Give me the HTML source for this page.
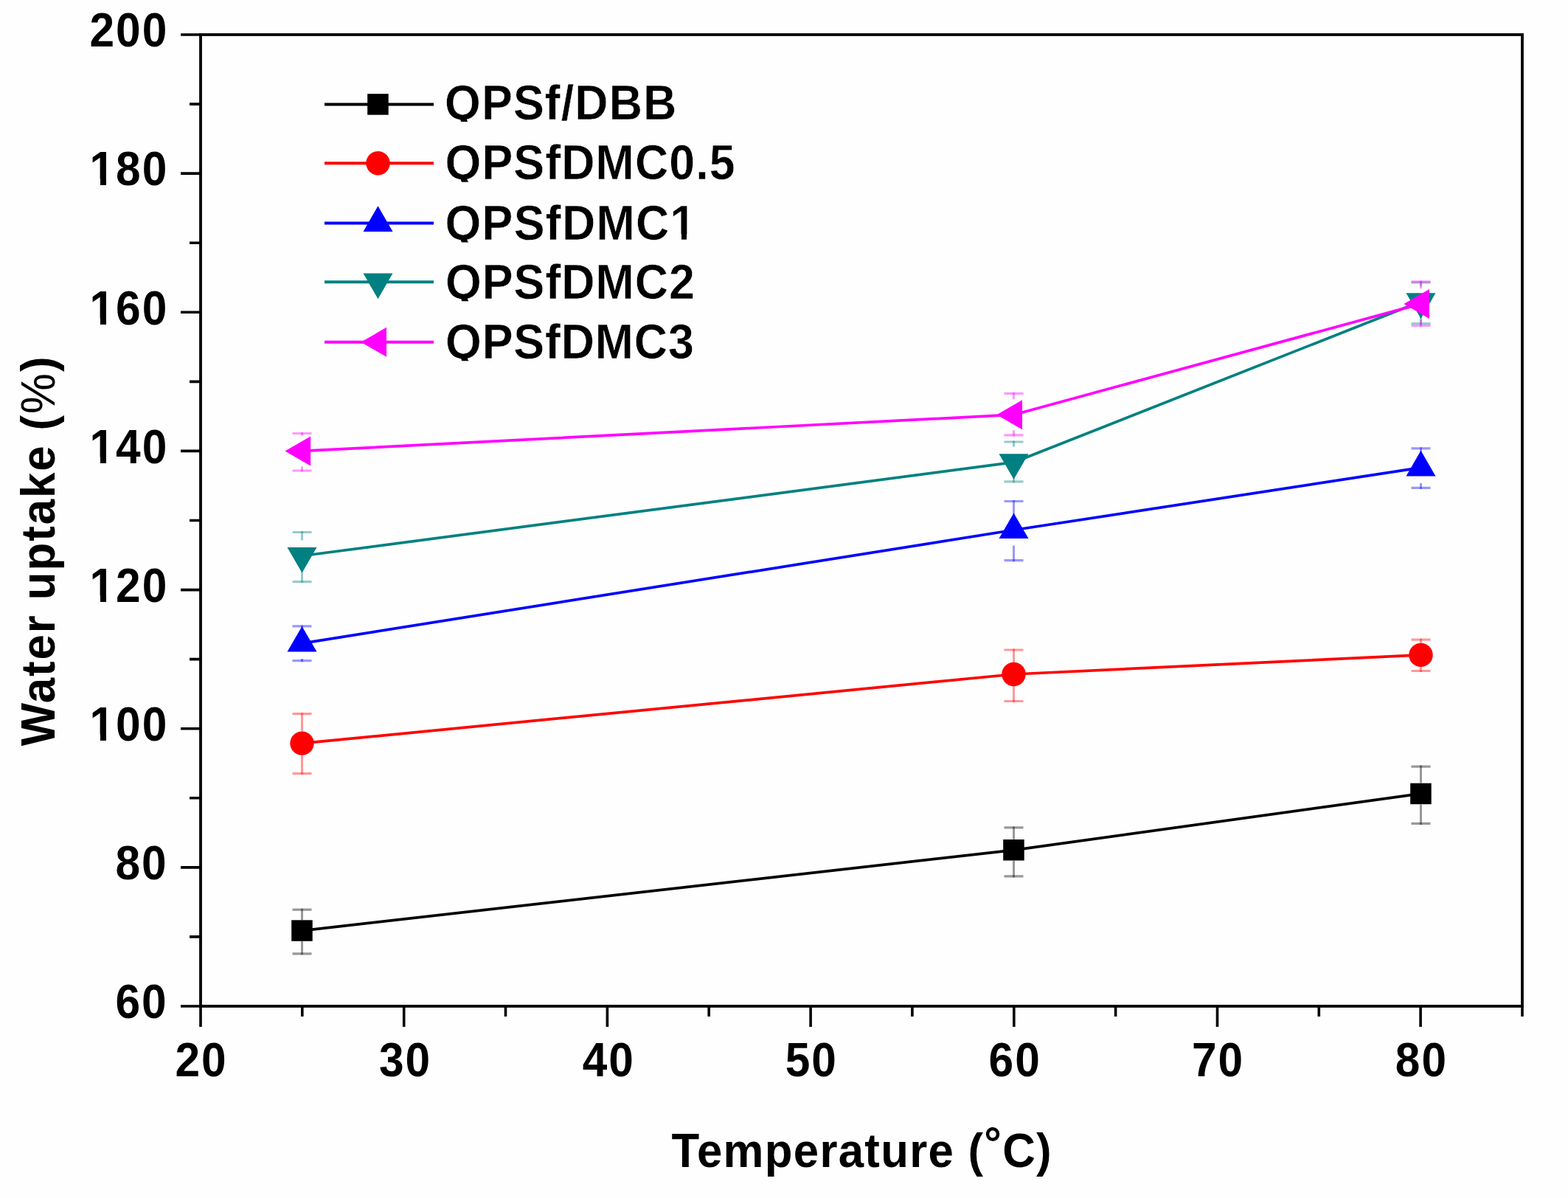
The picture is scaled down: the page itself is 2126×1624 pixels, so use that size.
<!DOCTYPE html><html><head><meta charset="utf-8"><title>Water uptake vs temperature</title><style>html,body{margin:0;padding:0;background:#fff}svg{display:block}text{font-family:"Liberation Sans",Arial,sans-serif;font-weight:bold;fill:#000}</style></head><body>
<svg width="2126" height="1624" viewBox="0 0 2126 1624">
<rect width="2126" height="1624" fill="#fefefe"/>
<g>
<path d="M245,1364.0H272 M245,1175.9H272 M245,987.7H272 M245,799.6H272 M245,611.4H272 M245,423.3H272 M245,235.1H272 M245,47.0H272 M257,1269.9H272 M257,1081.8H272 M257,893.6H272 M257,705.5H272 M257,517.4H272 M257,329.2H272 M257,141.1H272 M272.0,1364V1392 M547.7,1364V1392 M823.4,1364V1392 M1099.1,1364V1392 M1374.8,1364V1392 M1650.5,1364V1392 M1926.1,1364V1392 M409.8,1364V1378 M685.5,1364V1378 M961.2,1364V1378 M1236.9,1364V1378 M1512.6,1364V1378 M1788.3,1364V1378 M2064.0,1364V1378" stroke="#000" stroke-width="3.6" fill="none"/>
<rect x="272" y="47" width="1792" height="1317" fill="none" stroke="#000" stroke-width="3.8"/>
<text transform="translate(156.50,1380.30) scale(0.93,1)" font-size="65" letter-spacing="2.15" text-anchor="start"><tspan>60</tspan></text>
<text transform="translate(156.50,1192.16) scale(0.93,1)" font-size="65" letter-spacing="2.15" text-anchor="start"><tspan>80</tspan></text>
<text transform="translate(121.50,1004.01) scale(0.93,1)" font-size="65" letter-spacing="2.15" text-anchor="start"><tspan>100</tspan></text>
<text transform="translate(121.50,815.87) scale(0.93,1)" font-size="65" letter-spacing="2.15" text-anchor="start"><tspan>120</tspan></text>
<text transform="translate(121.50,627.73) scale(0.93,1)" font-size="65" letter-spacing="2.15" text-anchor="start"><tspan>140</tspan></text>
<text transform="translate(121.50,439.59) scale(0.93,1)" font-size="65" letter-spacing="2.15" text-anchor="start"><tspan>160</tspan></text>
<text transform="translate(121.50,251.44) scale(0.93,1)" font-size="65" letter-spacing="2.15" text-anchor="start"><tspan>180</tspan></text>
<text transform="translate(121.50,63.30) scale(0.93,1)" font-size="65" letter-spacing="2.15" text-anchor="start"><tspan>200</tspan></text>
<text transform="translate(237.50,1459.30) scale(0.93,1)" font-size="65" letter-spacing="2.15" text-anchor="start"><tspan>20</tspan></text>
<text transform="translate(513.88,1459.30) scale(0.93,1)" font-size="65" letter-spacing="2.15" text-anchor="start"><tspan>30</tspan></text>
<text transform="translate(789.76,1459.30) scale(0.93,1)" font-size="65" letter-spacing="2.15" text-anchor="start"><tspan>40</tspan></text>
<text transform="translate(1064.64,1459.30) scale(0.93,1)" font-size="65" letter-spacing="2.15" text-anchor="start"><tspan>50</tspan></text>
<text transform="translate(1340.52,1459.30) scale(0.93,1)" font-size="65" letter-spacing="2.15" text-anchor="start"><tspan>60</tspan></text>
<text transform="translate(1615.90,1459.30) scale(0.93,1)" font-size="65" letter-spacing="2.15" text-anchor="start"><tspan>70</tspan></text>
<text transform="translate(1891.78,1459.30) scale(0.93,1)" font-size="65" letter-spacing="2.15" text-anchor="start"><tspan>80</tspan></text>
<text transform="translate(910.60,1582.00) scale(0.95,1)" font-size="65" letter-spacing="1.35" text-anchor="start"><tspan>Temperature (</tspan><tspan font-size="62" font-weight="bold" stroke="none" dy="-11">°</tspan><tspan dy="11">C)</tspan></text>
<text transform="translate(73.80,1011.20) rotate(-90) scale(0.95,1)" font-size="65" letter-spacing="2.05" text-anchor="start"><tspan>Water uptake (</tspan><tspan font-weight="normal" stroke="none">%</tspan><tspan>)</tspan></text>
<path d="M396.5,1233.2H422.5M396.5,1292.8H422.5M1361.5,1121.9H1387.5M1361.5,1187.9H1387.5M1913.5,1039.1H1939.5M1913.5,1116.4H1939.5" stroke="#000000" stroke-opacity="0.4" stroke-width="3.2" fill="none"/>
<path d="M409.5,1231.7V1247.1M409.5,1276.1V1294.3M1374.5,1120.4V1137.8M1374.5,1166.8V1189.4M1926.5,1037.6V1061.4M1926.5,1090.4V1117.9" stroke="#000000" stroke-opacity="0.4" stroke-width="3" fill="none"/>
<path d="M396.5,967.7H422.5M396.5,1048.6H422.5M1361.5,881.0H1387.5M1361.5,950.5H1387.5M1913.5,867.2H1939.5M1913.5,909.5H1939.5" stroke="#ff0000" stroke-opacity="0.4" stroke-width="3.2" fill="none"/>
<path d="M409.5,966.2V991.6M409.5,1023.6V1050.1M1374.5,879.5V898.0M1374.5,930.0V952.0M1926.5,865.7V871.9M1926.5,903.9V911.0" stroke="#ff0000" stroke-opacity="0.4" stroke-width="3" fill="none"/>
<path d="M396.5,848.9H422.5M396.5,895.7H422.5M1361.5,679.5H1387.5M1361.5,759.7H1387.5M1913.5,607.8H1939.5M1913.5,661.3H1939.5" stroke="#0000ff" stroke-opacity="0.4" stroke-width="3.2" fill="none"/>
<path d="M409.5,847.4V851.1M409.5,893.1V897.2M1374.5,678.0V697.5M1374.5,739.5V761.2M1926.5,606.3V612.9M1926.5,654.9V662.8" stroke="#0000ff" stroke-opacity="0.4" stroke-width="3" fill="none"/>
<path d="M396.5,721.5H422.5M396.5,788.6H422.5M1361.5,599.0H1387.5M1361.5,652.8H1387.5M1913.5,383.0H1939.5M1913.5,438.7H1939.5" stroke="#008080" stroke-opacity="0.4" stroke-width="3.2" fill="none"/>
<path d="M409.5,720.0V732.5M409.5,774.5V790.1M1374.5,597.5V605.7M1374.5,647.7V654.3M1926.5,381.5V387.8M1926.5,429.8V440.2" stroke="#008080" stroke-opacity="0.4" stroke-width="3" fill="none"/>
<path d="M396.5,587.5H422.5M396.5,638.0H422.5M1361.5,533.4H1387.5M1361.5,589.8H1387.5M1913.5,381.9H1939.5M1913.5,441.5H1939.5" stroke="#ff00ff" stroke-opacity="0.4" stroke-width="3.2" fill="none"/>
<path d="M409.5,586.0V590.4M409.5,632.4V639.5M1374.5,531.9V541.2M1374.5,583.2V591.3M1926.5,380.4V390.9M1926.5,432.9V443.0" stroke="#ff00ff" stroke-opacity="0.4" stroke-width="3" fill="none"/>
<polyline points="409.5,1261.6 1374.5,1152.3 1926.5,1075.9" stroke="#000000" stroke-width="3.7" fill="none" stroke-linejoin="round"/>
<rect x="395.2" y="1247.3" width="28.5" height="28.5" fill="#000000"/>
<rect x="1360.2" y="1138.0" width="28.5" height="28.5" fill="#000000"/>
<rect x="1912.2" y="1061.7" width="28.5" height="28.5" fill="#000000"/>
<polyline points="409.5,1007.6 1374.5,914.0 1926.5,887.9" stroke="#ff0000" stroke-width="3.7" fill="none" stroke-linejoin="round"/>
<circle cx="409.5" cy="1007.6" r="16.2" fill="#ff0000"/>
<circle cx="1374.5" cy="914.0" r="16.2" fill="#ff0000"/>
<circle cx="1926.5" cy="887.9" r="16.2" fill="#ff0000"/>
<polyline points="409.5,872.1 1374.5,718.5 1926.5,633.9" stroke="#0000ff" stroke-width="3.7" fill="none" stroke-linejoin="round"/>
<polygon points="409.5,849.0 429.5,883.6 389.5,883.6" fill="#0000ff"/>
<polygon points="1374.5,695.4 1394.5,730.0 1354.5,730.0" fill="#0000ff"/>
<polygon points="1926.5,610.8 1946.5,645.4 1906.5,645.4" fill="#0000ff"/>
<polyline points="409.5,753.5 1374.5,626.7 1926.5,408.8" stroke="#008080" stroke-width="3.7" fill="none" stroke-linejoin="round"/>
<polygon points="409.5,776.6 429.5,742.0 389.5,742.0" fill="#008080"/>
<polygon points="1374.5,649.8 1394.5,615.2 1354.5,615.2" fill="#008080"/>
<polygon points="1926.5,431.9 1946.5,397.2 1906.5,397.2" fill="#008080"/>
<polyline points="409.5,611.4 1374.5,562.2 1926.5,411.9" stroke="#ff00ff" stroke-width="3.7" fill="none" stroke-linejoin="round"/>
<polygon points="386.4,611.4 421.1,631.4 421.1,591.4" fill="#ff00ff"/>
<polygon points="1351.4,562.2 1386.0,582.2 1386.0,542.2" fill="#ff00ff"/>
<polygon points="1903.4,411.9 1938.0,431.9 1938.0,391.9" fill="#ff00ff"/>
<path d="M440,141.5H588" stroke="#000000" stroke-width="4"/>
<rect x="498.2" y="127.2" width="28.5" height="28.5" fill="#000000"/>
<clipPath id="lc55"><rect x="590" y="91.5" width="450" height="73.5"/></clipPath>
<g clip-path="url(#lc55)"><text transform="translate(603.10,161.50) scale(0.95,1)" font-size="66" letter-spacing="1.17" text-anchor="start" stroke="#fefefe" stroke-width="0.5"><tspan>QPSf/DBB</tspan></text></g>
<path d="M440,221.3H588" stroke="#ff0000" stroke-width="4"/>
<circle cx="512.5" cy="221.3" r="16.2" fill="#ff0000"/>
<clipPath id="lc59"><rect x="590" y="173.2" width="450" height="73.5"/></clipPath>
<g clip-path="url(#lc59)"><text transform="translate(603.60,243.20) scale(0.95,1)" font-size="66" letter-spacing="1.15" text-anchor="start" stroke="#fefefe" stroke-width="0.5"><tspan>QPSfDMC0.5</tspan></text></g>
<path d="M440,302.4H588" stroke="#0000ff" stroke-width="4"/>
<polygon points="512.5,279.3 532.5,313.9 492.5,313.9" fill="#0000ff"/>
<clipPath id="lc63"><rect x="590" y="255.0" width="450" height="73.5"/></clipPath>
<g clip-path="url(#lc63)"><text transform="translate(603.60,325.00) scale(0.95,1)" font-size="66" letter-spacing="1.32" text-anchor="start" stroke="#fefefe" stroke-width="0.5"><tspan>QPSfDMC1</tspan></text></g>
<path d="M440,382.2H588" stroke="#008080" stroke-width="4"/>
<polygon points="512.5,405.3 532.5,370.6 492.5,370.6" fill="#008080"/>
<clipPath id="lc67"><rect x="590" y="334.8" width="450" height="73.5"/></clipPath>
<g clip-path="url(#lc67)"><text transform="translate(604.10,404.80) scale(0.95,1)" font-size="66" letter-spacing="1.02" text-anchor="start" stroke="#fefefe" stroke-width="0.5"><tspan>QPSfDMC2</tspan></text></g>
<path d="M440,463.8H588" stroke="#ff00ff" stroke-width="4"/>
<polygon points="489.4,463.8 524.0,483.8 524.0,443.8" fill="#ff00ff"/>
<clipPath id="lc71"><rect x="590" y="415.8" width="450" height="73.5"/></clipPath>
<g clip-path="url(#lc71)"><text transform="translate(604.10,485.80) scale(0.95,1)" font-size="66" letter-spacing="0.87" text-anchor="start" stroke="#fefefe" stroke-width="0.5"><tspan>QPSfDMC3</tspan></text></g>
<rect x="124.0" y="995.5" width="12.0" height="9.2" fill="#fefefe"/>
<rect x="144.0" y="995.5" width="10.0" height="9.2" fill="#fefefe"/>
<rect x="124.0" y="807.5" width="12.0" height="9.2" fill="#fefefe"/>
<rect x="144.0" y="807.5" width="10.0" height="9.2" fill="#fefefe"/>
<rect x="124.0" y="619.5" width="12.0" height="9.2" fill="#fefefe"/>
<rect x="144.0" y="619.5" width="10.0" height="9.2" fill="#fefefe"/>
<rect x="124.0" y="431.5" width="12.0" height="9.2" fill="#fefefe"/>
<rect x="144.0" y="431.5" width="10.0" height="9.2" fill="#fefefe"/>
<rect x="124.0" y="242.5" width="12.0" height="9.2" fill="#fefefe"/>
<rect x="144.0" y="242.5" width="10.0" height="9.2" fill="#fefefe"/>
<rect x="912.0" y="317.5" width="12.0" height="8.2" fill="#fefefe"/>
<rect x="931.0" y="317.5" width="11.0" height="8.2" fill="#fefefe"/>
</g>
</svg></body></html>
